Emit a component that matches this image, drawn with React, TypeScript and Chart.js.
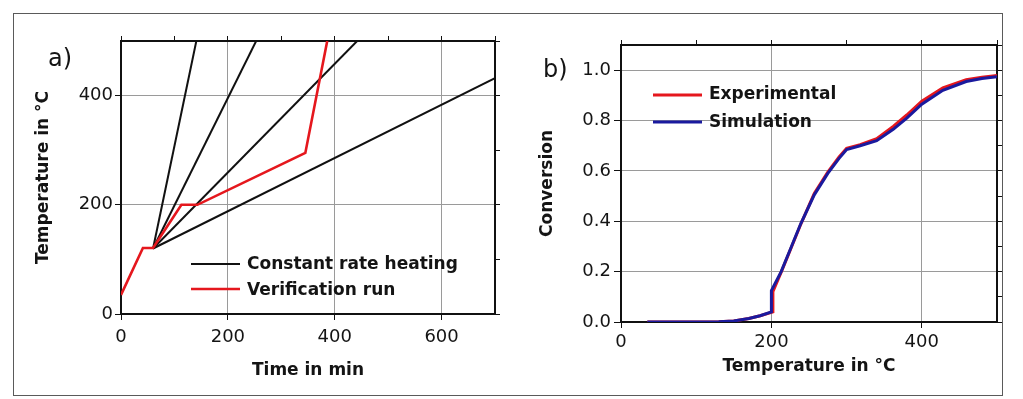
import React, { useEffect, useRef } from "react";
import { Chart, registerables } from "chart.js";

Chart.register(...registerables);

const FONT = "'DejaVu Sans', 'Liberation Sans', sans-serif";
const TEXT = "#141414";
const GRID = "#9a9a9a";
const NONE = "rgba(0,0,0,0)";
const RED = "#e5171d";
const BLUE = "#1a1a9e";
const BLACK = "#111111";

// ---------- Panel a) ----------
const rateStartTime = [60, 60, 60, 60];
const rateStartTemp = [120, 120, 120, 120];
const rateEndTime = [141, 253, 442, 700];
const rateEndTemp = [500, 500, 500, 432];
const verificationTime = [0, 41, 60, 113, 143, 345, 386];
const verificationTemp = [35, 121, 121, 200, 200, 295, 500];
const legendA = ["Constant rate heating", "Verification run"];

// ---------- Panel b) ----------
const simTemp = [35, 100, 130, 150, 170, 185, 200, 200, 213, 226, 239, 257, 275, 290, 300, 318, 340, 362, 380, 400, 428, 459, 480, 500];
const simConv = [0, 0, 0.001, 0.004, 0.014, 0.025, 0.04, 0.125, 0.2, 0.295, 0.39, 0.505, 0.59, 0.65, 0.685, 0.7, 0.72, 0.765, 0.81, 0.865, 0.92, 0.955, 0.967, 0.974];
const expTemp = [35, 100, 130, 150, 170, 185, 202, 202, 214, 227, 240, 257, 275, 290, 300, 318, 340, 362, 380, 400, 428, 459, 480, 500];
const expConv = [0, 0, 0.001, 0.004, 0.014, 0.025, 0.04, 0.12, 0.205, 0.3, 0.395, 0.51, 0.595, 0.655, 0.69, 0.704, 0.728, 0.777, 0.822, 0.877, 0.93, 0.962, 0.972, 0.979];
const legendB = ["Experimental", "Simulation"];

type Entry = { text: string; color: string; width: number };

function annotationPlugin(
  id: string,
  label: string,
  labelX: number,
  labelY: number,
  entries: Entry[],
  lx0: number,
  lx1: number,
  ly: number[],
  tx: number,
  ty: number[]
) {
  return {
    id,
    afterDraw(chart: any) {
      const ctx = chart.ctx as CanvasRenderingContext2D;
      ctx.save();
      ctx.fillStyle = TEXT;
      ctx.textAlign = "left";
      ctx.textBaseline = "middle";
      ctx.font = `24px ${FONT}`;
      ctx.fillText(label, labelX, labelY);
      entries.forEach((e, i) => {
        ctx.beginPath();
        ctx.strokeStyle = e.color;
        ctx.lineWidth = e.width;
        ctx.moveTo(lx0, ly[i]);
        ctx.lineTo(lx1, ly[i]);
        ctx.stroke();
        ctx.fillStyle = TEXT;
        ctx.font = `bold 17px ${FONT}`;
        ctx.fillText(e.text, tx, ty[i]);
      });
      ctx.restore();
    },
  };
}

function frameAxis(pos: string, min: number, max: number, step: number) {
  return {
    type: "linear",
    position: pos,
    min,
    max,
    ticks: { display: false, stepSize: step, includeBounds: false },
    grid: { drawOnChartArea: false, drawTicks: true, tickLength: 5, tickColor: BLACK, color: BLACK },
    border: { display: true, color: BLACK, width: 2 },
    afterFit: (s: any) => {
      if (pos === "top" || pos === "bottom") s.height = 0;
      else s.width = 0;
    },
  } as any;
}

function mainAxis(
  pos: string,
  min: number,
  max: number,
  step: number,
  nTicks: number,
  size: number,
  tickPad: number,
  tickLen: number,
  title: string,
  titlePad: any,
  fmt?: (v: any) => string
) {
  const ticks: any = {
    stepSize: step,
    includeBounds: false,
    autoSkip: false,
    maxRotation: 0,
    padding: tickPad,
    color: TEXT,
    font: { family: FONT, size: 18 },
  };
  if (fmt) ticks.callback = fmt;
  return {
    type: "linear",
    position: pos,
    min,
    max,
    ticks,
    grid: {
      color: [NONE, ...Array(nTicks - 1).fill(GRID)],
      tickColor: BLACK,
      tickLength: tickLen,
      lineWidth: 1,
    },
    border: { display: true, color: BLACK, width: 2 },
    title: {
      display: true,
      text: title,
      color: TEXT,
      font: { family: FONT, size: 17, weight: "bold" },
      padding: titlePad,
    },
    afterFit: (s: any) => {
      if (pos === "bottom") s.height = size;
      else s.width = size;
    },
  } as any;
}

function buildA(canvas: HTMLCanvasElement) {
  const black = rateEndTime.map((t, i) => ({
    label: legendA[0],
    data: [
      { x: rateStartTime[i], y: rateStartTemp[i] },
      { x: t, y: rateEndTemp[i] },
    ],
    borderColor: BLACK,
    borderWidth: 2,
    pointRadius: 0,
    tension: 0,
    order: 1,
  }));
  const red = {
    label: legendA[1],
    data: verificationTime.map((t, i) => ({ x: t, y: verificationTemp[i] })),
    borderColor: RED,
    borderWidth: 2.6,
    pointRadius: 0,
    tension: 0,
    order: 0,
  };
  return new Chart(canvas, {
    type: "line",
    data: { datasets: [...black, red] as any },
    options: {
      animation: false,
      responsive: false,
      events: [],
      layout: { padding: { left: 0, right: 15, top: 41, bottom: 0 } },
      plugins: { legend: { display: false }, tooltip: { enabled: false } },
      scales: {
        x: mainAxis("bottom", 0, 700, 200, 4, 85, 7, 6, "Time in min", { top: 0, bottom: 18 }),
        y: mainAxis("left", 0, 500, 200, 3, 121, 2, 6, "Temperature in °C", { top: 33, bottom: 0 }),
        x2: frameAxis("top", 0, 700, 100),
        y2: frameAxis("right", 0, 500, 100),
      },
    },
    plugins: [
      annotationPlugin(
        "annotA",
        "a)",
        48,
        60,
        [
          { text: legendA[0], color: BLACK, width: 2 },
          { text: legendA[1], color: RED, width: 2.6 },
        ],
        191,
        240,
        [264, 289],
        247,
        [265, 291]
      ) as any,
    ],
  });
}

function buildB(canvas: HTMLCanvasElement) {
  const exp = {
    label: legendB[0],
    data: expTemp.map((t, i) => ({ x: t, y: expConv[i] })),
    borderColor: RED,
    borderWidth: 3,
    pointRadius: 0,
    tension: 0,
    order: 1,
  };
  const sim = {
    label: legendB[1],
    data: simTemp.map((t, i) => ({ x: t, y: simConv[i] })),
    borderColor: BLUE,
    borderWidth: 3,
    pointRadius: 0,
    tension: 0,
    order: 0,
  };
  return new Chart(canvas, {
    type: "line",
    data: { datasets: [exp, sim] as any },
    options: {
      animation: false,
      responsive: false,
      events: [],
      layout: { padding: { left: 0, right: 26, top: 45, bottom: 0 } },
      plugins: { legend: { display: false }, tooltip: { enabled: false } },
      scales: {
        x: mainAxis("bottom", 0, 500, 200, 3, 77, 4, 6, "Temperature in °C", { top: 0, bottom: 22 }),
        y: mainAxis("left", 0, 1.1, 0.2, 6, 111, 3, 7, "Conversion", { top: 27, bottom: 0 }, (v: any) =>
          Number(v).toFixed(1)
        ),
        x2: frameAxis("top", 0, 500, 100),
        y2: frameAxis("right", 0, 1.1, 0.1),
      },
    },
    plugins: [
      annotationPlugin(
        "annotB",
        "b)",
        33,
        71,
        [
          { text: legendB[0], color: RED, width: 3 },
          { text: legendB[1], color: BLUE, width: 3 },
        ],
        143,
        192,
        [95, 122],
        199,
        [95, 123]
      ) as any,
    ],
  });
}

export default function App() {
  const refA = useRef<HTMLCanvasElement | null>(null);
  const refB = useRef<HTMLCanvasElement | null>(null);

  useEffect(() => {
    const a = refA.current ? buildA(refA.current) : null;
    const b = refB.current ? buildB(refB.current) : null;
    return () => {
      a?.destroy();
      b?.destroy();
    };
  }, []);

  return (
    <div
      style={{
        position: "absolute",
        left: 0,
        top: 0,
        width: 1023,
        height: 399,
        background: "#ffffff",
        overflow: "hidden",
      }}
    >
      <div
        style={{
          position: "absolute",
          left: 13,
          top: 13,
          width: 990,
          height: 383,
          border: "1.5px solid #5a5a5a",
          boxSizing: "border-box",
        }}
      />
      <canvas
        ref={refA}
        width={510}
        height={399}
        style={{ position: "absolute", left: 0, top: 0, width: 510, height: 399, display: "block" }}
      />
      <canvas
        ref={refB}
        width={513}
        height={399}
        style={{ position: "absolute", left: 510, top: 0, width: 513, height: 399, display: "block" }}
      />
    </div>
  );
}
